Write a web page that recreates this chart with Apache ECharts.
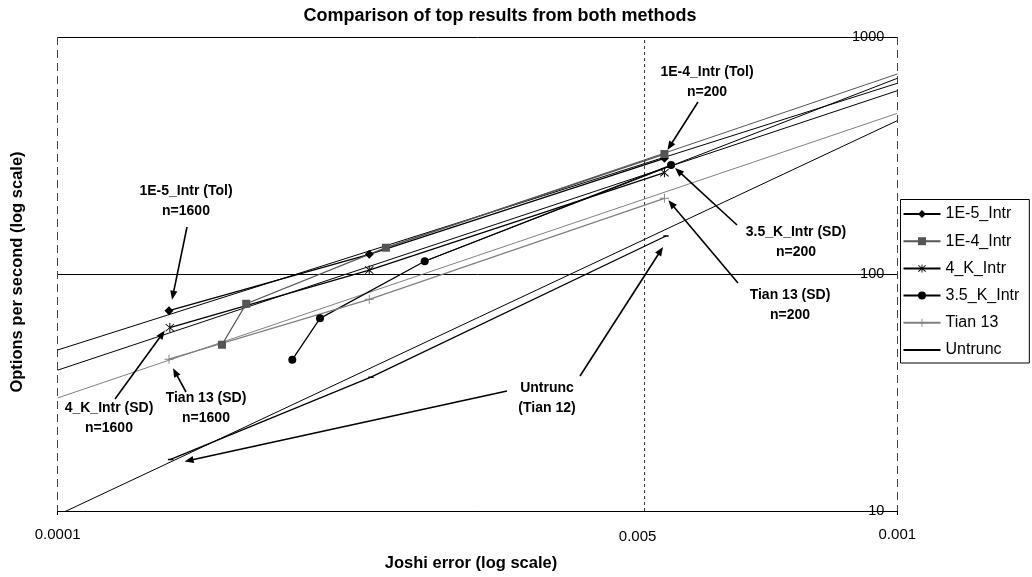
<!DOCTYPE html>
<html><head><meta charset="utf-8">
<script src="https://cdn.jsdelivr.net/npm/echarts@6/dist/echarts.min.js"></script>
<style>html,body{margin:0;padding:0;background:#fff}#c{width:1032px;height:577px}</style>
</head><body><div id="c"></div>
<script>
// ---------- data ----------
const seriesNames = ['1E-5_Intr', '1E-4_Intr', '4_K_Intr', '3.5_K_Intr', 'Tian 13', 'Untrunc'];

const x1E5 = [0.0001357, 0.000235, 0.000528];
const y1E5 = [70.0, 121.1, 307.7];
const x1E4 = [0.0001569, 0.0001677, 0.000246, 0.000528];
const y1E4 = [50.3, 74.9, 129.1, 320.8];
const x4K = [0.000136, 0.000235, 0.000528];
const y4K = [59.4, 103.9, 267.6];
const x35K = [0.0001903, 0.0002053, 0.0002736, 0.0005377];
const y35K = [43.5, 65.0, 113.2, 288.4];
const xT13 = [0.0001357, 0.000235, 0.000528];
const yT13 = [43.7, 78.2, 208.7];
const xUn = [0.0001363, 0.0002361, 0.0005303];
const yUn = [16.5, 36.7, 144.7];

// trendlines (end points)
const trend1E5x = [0.0001, 0.001], trend1E5y = [47.8, 637.8];
const trend1E4x = [0.000246, 0.001], trend1E4y = [129.1, 698];
const trend4Kx = [0.0001, 0.001], trend4Ky = [39.3, 593.5];
const trend35Kx = [0.0002736, 0.001], trend35Ky = [113.2, 669.6];
const trendT13x = [0.0001, 0.001], trendT13y = [30.0, 476.4];
const trendUnx = [0.0001, 0.001], trendUny = [9.62, 443.6];

const xMin = 0.0001, xMax = 0.001, yMin = 10, yMax = 1000;
const xMarkValue = 0.0005;
const xMarkLabel = '0.005';

const titleText = 'Comparison of top results from both methods';
const xName = 'Joshi error (log scale)';
const yName = 'Options per second (log scale)';

// ---------- chart ----------
const FONT = "'Liberation Sans', Arial, sans-serif";
const pair = (xs, ys) => xs.map((x, i) => [x, ys[i]]);

const STAR = 'path://M4.5,0 L5.5,0 L5.5,10 L4.5,10 Z M0.6,1.3 L1.3,0.6 L9.4,8.7 L8.7,9.4 Z M9.4,1.3 L8.7,0.6 L0.6,8.7 L1.3,9.4 Z';
const PLUS = 'path://M4.5,0 L5.5,0 L5.5,10 L4.5,10 Z M0,4.5 L10,4.5 L10,5.5 L0,5.5 Z';
const DASH = 'path://M0,0 L0,0 Z M10,10 L10,10 Z M2,4.2 L8,4.2 L8,5.8 L2,5.8 Z';

const styles = {
  '1E-5_Intr': {color: '#000', symbol: 'diamond', size: 9},
  '1E-4_Intr': {color: '#555', symbol: 'rect', size: 8},
  '4_K_Intr': {color: '#000', symbol: STAR, size: 9},
  '3.5_K_Intr': {color: '#000', symbol: 'circle', size: 8},
  'Tian 13': {color: '#808080', symbol: PLUS, size: 9},
  'Untrunc': {color: '#000', symbol: DASH, size: 9}
};

const dataMap = {
  '1E-5_Intr': [x1E5, y1E5, trend1E5x, trend1E5y],
  '1E-4_Intr': [x1E4, y1E4, trend1E4x, trend1E4y],
  '4_K_Intr': [x4K, y4K, trend4Kx, trend4Ky],
  '3.5_K_Intr': [x35K, y35K, trend35Kx, trend35Ky],
  'Tian 13': [xT13, yT13, trendT13x, trendT13y],
  'Untrunc': [xUn, yUn, trendUnx, trendUny]
};

const series = [];
// vertical dashed marker line at 0.0005
series.push({
  name: 'marker 0.0005', type: 'line', data: [[xMarkValue, yMin], [xMarkValue, yMax]],
  symbol: 'none', silent: true, z: 1,
  lineStyle: {type: [3, 3], color: '#333', width: 1}
});
seriesNames.forEach(n => {
  const st = styles[n], d = dataMap[n];
  series.push({
    name: n + ' trend', type: 'line', data: pair(d[2], d[3]), symbol: 'none',
    lineStyle: {color: st.color, width: 1}, silent: true, z: 2, clip: true
  });
});
seriesNames.forEach(n => {
  const st = styles[n], d = dataMap[n];
  series.push({
    name: n, type: 'line', data: pair(d[0], d[1]),
    symbol: st.symbol, symbolSize: st.size, showSymbol: true,
    lineStyle: {color: st.color, width: 1.3},
    itemStyle: {color: st.color, borderWidth: 0},
    z: 3, clip: true
  });
});

const chart = echarts.init(document.getElementById('c'), null, {renderer: 'canvas'});
chart.setOption({
  animation: false,
  backgroundColor: '#fff',
  textStyle: {fontFamily: FONT},
  grid: {left: 57.7, right: 134.7, top: 37, bottom: 66, containLabel: false, outerBoundsMode: 'none'},
  xAxis: {
    type: 'log', logBase: 10, min: xMin, max: xMax,
    axisLine: {show: true, lineStyle: {color: '#000', width: 1}},
    axisTick: {show: true, length: 4, lineStyle: {color: '#000'}},
    axisLabel: {fontSize: 15, color: '#000', margin: 16,
      formatter: v => String(Number(Number(v).toPrecision(3)))},
    splitLine: {show: true, lineStyle: {type: [8, 5], color: '#444', width: 1}},
    minorTick: {show: false}
  },
  yAxis: {
    type: 'log', logBase: 10, min: yMin, max: yMax, position: 'right',
    axisLine: {show: false}, axisTick: {show: false},
    axisLabel: {inside: true, margin: 13, fontSize: 14.5, color: '#000',
      formatter: v => String(Math.round(v))},
    splitLine: {show: true, lineStyle: {color: '#000', width: 1, type: 'solid'}}
  },
  legend: {
    orient: 'vertical', left: 900.5, top: 199.5,
    data: seriesNames, selectedMode: false,
    borderColor: '#000', borderWidth: 1, padding: [6.5, 10, 5, 2],
    itemWidth: 37, itemHeight: 10, itemGap: 11.2,
    textStyle: {fontSize: 16, color: '#000', lineHeight: 16, fontFamily: FONT}
  },
  series: series
});

// ---------- annotations ----------
const annots = [
  {text: '1E-5_Intr (Tol)\nn=1600', c: [186, 201.5], arrows: [{tail: [187, 227], s: '1E-5_Intr', i: 0, off: [3, -11]}]},
  {text: '1E-4_Intr (Tol)\nn=200', c: [707, 82.5], arrows: [{tail: [698, 102], s: '1E-4_Intr', i: 3, off: [3, -4]}]},
  {text: '3.5_K_Intr (SD)\nn=200', c: [796, 242], arrows: [{tail: [737, 225], s: '3.5_K_Intr', i: 3, off: [4, 3]}]},
  {text: 'Tian 13 (SD)\nn=200', c: [790, 305.5], arrows: [{tail: [738, 283], s: 'Tian 13', i: 2, off: [4, 2]}]},
  {text: 'Untrunc\n(Tian 12)', c: [547, 398.5], arrows: [
     {tail: [580, 376], s: 'Untrunc', i: 2, off: [-3, 11]},
     {tail: [507, 391], s: 'Untrunc', i: 0, off: [14, 2]}]},
  {text: '4_K_Intr (SD)\nn=1600', c: [109, 418.5], arrows: [{tail: [115, 399], s: '4_K_Intr', i: 0, off: [-5, 3]}]},
  {text: 'Tian 13 (SD)\nn=1600', c: [206, 408.5], arrows: [{tail: [186, 392], s: 'Tian 13', i: 0, off: [4, 9]}]}
];

function arrowEls(t, h) {
  const dx = h[0] - t[0], dy = h[1] - t[1], L = Math.hypot(dx, dy);
  const ux = dx / L, uy = dy / L, hl = 9, hw = 3.6;
  const bx = h[0] - ux * hl, by = h[1] - uy * hl;
  return [
    {type: 'line', shape: {x1: t[0], y1: t[1], x2: bx + ux, y2: by + uy},
     style: {stroke: '#000', lineWidth: 1.6}, z: 10},
    {type: 'polygon', shape: {points: [[h[0], h[1]], [bx - uy * hw, by + ux * hw], [bx + uy * hw, by - ux * hw]]},
     style: {fill: '#000'}, z: 10}
  ];
}

const g = [];
g.push({type: 'text', x: 500, y: 16.5, z: 10,
  style: {text: titleText, fill: '#000', font: 'bold 18px ' + FONT, textAlign: 'center', textVerticalAlign: 'middle'}});
g.push({type: 'text', x: 471, y: 563, z: 10,
  style: {text: xName, fill: '#000', font: 'bold 16.5px ' + FONT, textAlign: 'center', textVerticalAlign: 'middle'}});
g.push({type: 'text', x: 17, y: 272, rotation: Math.PI / 2, z: 10,
  style: {text: yName, fill: '#000', font: 'bold 16.5px ' + FONT, textAlign: 'center', textVerticalAlign: 'middle'}});

// label of the dashed marker line
const mp = chart.convertToPixel({gridIndex: 0}, [xMarkValue, yMin]);
g.push({type: 'text', x: mp[0] - 7, y: mp[1] + 26, z: 10,
  style: {text: xMarkLabel, fill: '#000', font: '15px ' + FONT, textAlign: 'center', textVerticalAlign: 'middle'}});

annots.forEach(a => {
  g.push({type: 'text', x: a.c[0], y: a.c[1], z: 10,
    style: {text: a.text, fill: '#000', font: 'bold 14px ' + FONT, textAlign: 'center',
            textVerticalAlign: 'middle', lineHeight: 20}});
  a.arrows.forEach(ar => {
    const d = dataMap[ar.s];
    const p = chart.convertToPixel({gridIndex: 0}, [d[0][ar.i], d[1][ar.i]]);
    const head = [p[0] + ar.off[0], p[1] + ar.off[1]];
    arrowEls(ar.tail, head).forEach(e => g.push(e));
  });
});

chart.setOption({graphic: {elements: g}});
</script>
</body></html>
